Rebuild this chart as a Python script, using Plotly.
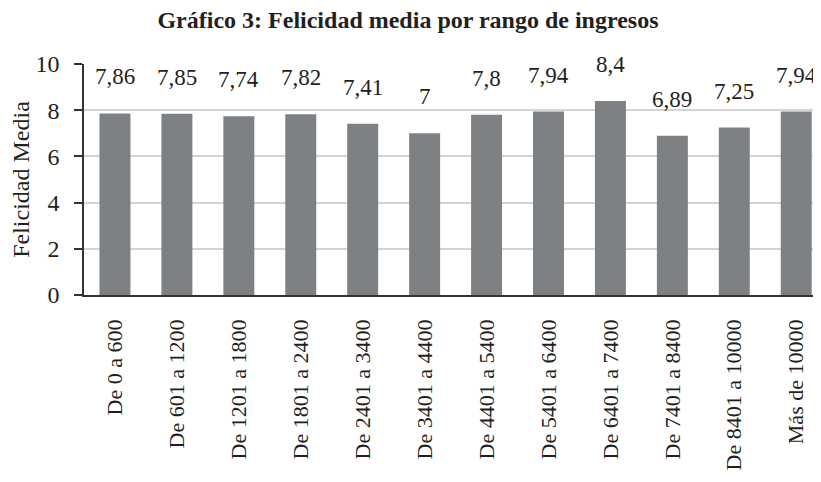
import plotly.graph_objects as go

categories = ["De 0 a 600", "De 601 a 1200", "De 1201 a 1800", "De 1801 a 2400",
              "De 2401 a 3400", "De 3401 a 4400", "De 4401 a 5400", "De 5401 a 6400",
              "De 6401 a 7400", "De 7401 a 8400", "De 8401 a 10000", "Más de 10000"]
values = [7.86, 7.85, 7.74, 7.82, 7.41, 7, 7.8, 7.94, 8.4, 6.89, 7.25, 7.94]
y_ticks = [0, 2, 4, 6, 8, 10]

FONT = "Liberation Serif"
TXT = "#231f20"

labels = [f"{v:g}".replace(".", ",") for v in values]

fig = go.Figure()
fig.add_trace(go.Bar(
    x=categories, y=values,
    marker=dict(color="#7e8184", line=dict(width=0)),
    width=0.5,
    hoverinfo="skip",
))

for c, v, t in zip(categories, values, labels):
    fig.add_annotation(x=c, y=v, text=t, showarrow=False, yanchor="bottom",
                       yshift=22, font=dict(family=FONT, size=23, color=TXT))

# page body has an 8px margin, so the figure is sized to fit the 821x482 window
fig.update_layout(
    width=813, height=474,
    margin=dict(l=76, r=0, t=56, b=187),
    paper_bgcolor="white", plot_bgcolor="white",
    showlegend=False,
    title=dict(text="<b>Gráfico 3: Felicidad media por rango de ingresos</b>",
               x=0.492, xanchor="center", y=0.975, yanchor="middle",
               font=dict(family=FONT, size=24, color=TXT)),
    font=dict(family=FONT, size=22, color=TXT),
)
fig.update_xaxes(
    range=[-0.5, 11.4], showgrid=False, showline=True, linecolor="#333333", linewidth=1.5,
    ticks="", tickangle=-90, ticklabelstandoff=14, automargin=False,
    tickfont=dict(family=FONT, size=22, color=TXT), fixedrange=True,
)
fig.update_yaxes(
    range=[0, 10], tickvals=y_ticks, showgrid=True, gridcolor="#d4d4d4", gridwidth=2,
    showline=True, linecolor="#333333", linewidth=1.5, ticks="outside", ticklen=8,
    tickcolor="#333333", tickwidth=1.5, ticklabelstandoff=10, automargin=False,
    tickfont=dict(family=FONT, size=24, color=TXT), zeroline=False,
    title=dict(text="Felicidad Media", standoff=4, font=dict(family=FONT, size=24, color=TXT)),
)

fig.write_html("out.html")
